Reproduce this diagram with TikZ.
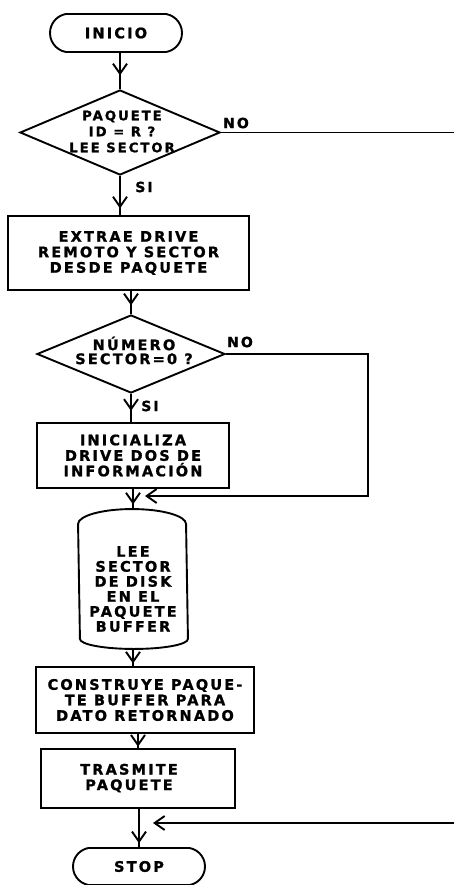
\documentclass[tikz,border=0pt]{standalone}
\usepackage{fontspec}
\setmainfont{DejaVu Sans}
\newfontfamily\lettering{DejaVu Sans}[LetterSpace=15, BoldFeatures={FakeBold=1.2}]
\usetikzlibrary{shapes.geometric,shapes.misc,arrows.meta,decorations.markings}

\begin{document}
\begin{tikzpicture}[x=1pt, y=-1pt, line width=1.9pt,
  barb/.tip={Straight Barb[length=10pt,width=14pt]},
  txt/.style={font=\lettering\bfseries\fontsize{14.5}{15.5}\selectfont, align=center, inner sep=0pt},
  lbl/.style={font=\lettering\bfseries\fontsize{14}{15}\selectfont, inner sep=0pt},
  proc/.style={draw, rectangle, inner sep=0pt},
  term/.style={draw, rounded rectangle, rounded rectangle arc length=160, inner sep=0pt, minimum width=132pt, minimum height=38pt},
  dec/.style={draw, diamond, inner sep=0pt},
  flowto/.style={decoration={markings, mark=at position #1 with {\arrow{barb}}}, postaction={decorate}}
]
\useasboundingbox (0,0) rectangle (454,885);

% start
\node[term] (ini) at (116,33) {};
\node[txt] at (ini) {INICIO};

% first decision
\node[dec, minimum width=200pt, minimum height=85pt] (d1) at (120,132.5) {};
\node[txt, font=\lettering\bfseries\fontsize{13.2}{16}\selectfont] at (122,131.5) {PAQUETE\\ID = R ?\\LEE SECTOR};

% extract drive and sector
\node[proc, minimum width=241pt, minimum height=74pt] (b1) at (128.5,253) {};
\node[txt] at (b1) {EXTRAE DRIVE\\REMOTO Y SECTOR\\DESDE PAQUETE};

% second decision
\node[dec, minimum width=188pt, minimum height=78pt] (d2) at (131,354) {};
\node[txt, font=\lettering\bfseries\fontsize{14.5}{14}\selectfont] at (134,350.5) {NÚMERO\\SECTOR=0 ?};

% initialise drive
\node[proc, minimum width=192pt, minimum height=65pt] (b2) at (133,455.5) {};
\node[txt] at (b2) {INICIALIZA\\DRIVE DOS DE\\INFORMACIÓN};

% disk read (cylinder drawn by hand around an empty frame node)
\node[inner sep=0pt, minimum width=108pt, minimum height=138pt] (cyl) at (133,579) {};
\draw ([yshift=-15pt]cyl.north west)
  arc[start angle=180, end angle=0, x radius=54pt, y radius=15pt]
  -- ([yshift=10pt]cyl.south east)
  arc[start angle=0, end angle=-180, x radius=54pt, y radius=10pt]
  -- cycle;
\node[txt, font=\lettering\bfseries\fontsize{14.5}{15}\selectfont] at (133,589) {LEE\\SECTOR\\DE DISK\\EN EL\\PAQUETE\\BUFFER};

% build buffer
\node[proc, minimum width=218pt, minimum height=66pt] (b3) at (145,700) {};
\node[txt] at (b3) {CONSTRUYE PAQUE-\\TE BUFFER PARA\\DATO RETORNADO};

% transmit
\node[proc, minimum width=194pt, minimum height=59pt] (b4) at (138,778.5) {};
\node[txt] at (129,778) {TRASMITE\\PAQUETE};

% stop
\node[term, minimum height=37pt] (stop) at (139,866.5) {};
\node[txt] at (stop) {STOP};

% main flow
\draw[flowto=0.62] (d1.north |- ini.south) -- (d1.north);
\draw[flowto=0.83] (d1.south) -- (d1.south |- b1.north);
\draw[flowto=0.62] (d2.north |- b1.south) -- (d2.north);
\draw[flowto=0.6] (d2.south) -- (d2.south |- b2.north);
\draw[flowto=0.77] (cyl.north |- b2.south) -- (cyl.north);
\draw[flowto=0.85] (cyl.south) -- (cyl.south |- b3.north);
\draw[flowto=0.9] (b4.north |- b3.south) -- (b4.north);
\draw[flowto=0.9] (stop.north |- b4.south) -- (stop.north);

% branch lines
\coordinate (e1) at (454,132.5);
\draw (d1.east) -- (e1);

\coordinate (k2) at (368,496);
\coordinate (k3) at (145,496);
\draw[-barb] (d2.east) -| (k2) -- (k3);

\coordinate (e2) at (454,823);
\coordinate (k4) at (153,823);
\draw[-barb] (e2) -- (k4);

% branch labels
\node[lbl] (no1) at (236,123) {NO};
\node[lbl] (si1) at (144,187) {SI};
\node[lbl] (no2) at (240,342) {NO};
\node[lbl] (si2) at (150,406) {SI};
\end{tikzpicture}
\end{document}
